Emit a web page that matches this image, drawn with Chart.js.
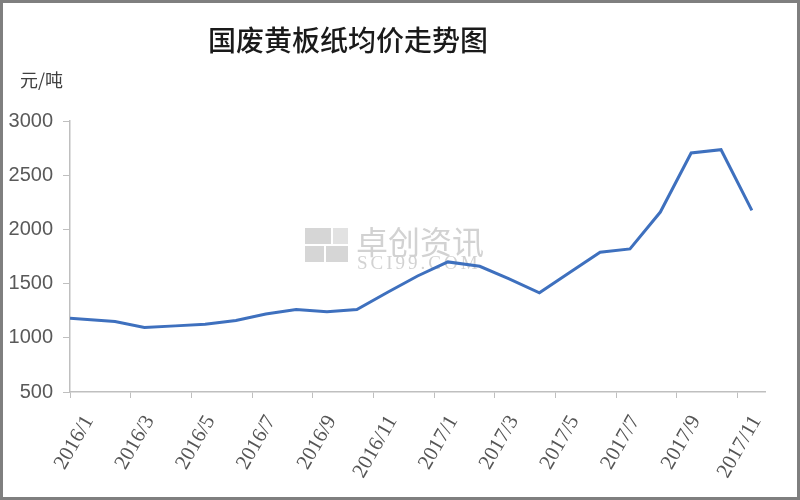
<!DOCTYPE html>
<html>
<head>
<meta charset="utf-8">
<script src="https://cdn.jsdelivr.net/npm/chart.js@4.4.1/dist/chart.umd.min.js"></script>
<style>
  body { margin: 0; background: #fff; }
</style>
</head>
<body>
<canvas id="myChart" width="800" height="500"></canvas>
<script>
// 国废黄板纸均价 (元/吨), sampled roughly mid-month
var dates = ['2016/1/1', '2016/2/15', '2016/3/15', '2016/4/15', '2016/5/15', '2016/6/15',
             '2016/7/15', '2016/8/15', '2016/9/15', '2016/10/15', '2016/11/15', '2016/12/15',
             '2017/1/15', '2017/2/15', '2017/3/15', '2017/4/15', '2017/5/15', '2017/6/15',
             '2017/7/15', '2017/8/15', '2017/9/15', '2017/10/15', '2017/11/15'];
var prices = [1180, 1150, 1095, 1110, 1125, 1160,
              1220, 1260, 1240, 1260, 1420, 1570,
              1700, 1660, 1545, 1415, 1600, 1790,
              1820, 2160, 2705, 2735, 2175];
var xTickLabels = ['2016/1', '2016/3', '2016/5', '2016/7', '2016/9', '2016/11',
                   '2017/1', '2017/3', '2017/5', '2017/7', '2017/9', '2017/11'];
var yTicks = [500, 1000, 1500, 2000, 2500, 3000];
var chartTitle = '国废黄板纸均价走势图';
var unitLabel = '元/吨';

// months since 2016/1/1
function toMonths(s) {
    var p = s.split('/').map(Number);
    var days = new Date(p[0], p[1], 0).getDate();
    return (p[0] - 2016) * 12 + (p[1] - 1) + (p[2] - 1) / days;
}

var points = dates.map(function (d, i) {
    return { x: toMonths(d), y: prices[i] };
});

var decor = {
    id: 'decor',
    beforeDraw: function (chart) {
        var c = chart.ctx;
        c.save();
        c.fillStyle = '#fff';
        c.fillRect(0, 0, chart.width, chart.height);
        c.restore();
    },
    beforeDatasetsDraw: function (chart) {
        // faint watermark in the middle
        var c = chart.ctx;
        c.save();
        c.fillStyle = '#d6d6d6';
        c.fillRect(305, 228, 26, 16);
        c.fillRect(305, 246, 19, 16);
        c.fillRect(326, 246, 22, 16);
        c.fillStyle = '#e2e2e2';
        c.fillRect(333, 228, 15, 16);
        c.fillStyle = '#d2d2d2';
        c.font = '32px "Noto Sans CJK SC"';
        c.textBaseline = 'middle';
        c.fillText('卓创资讯', 356, 242);
        c.font = '19px "Liberation Serif"';
        c.letterSpacing = '3px';
        c.fillText('SCI99.COM', 357, 264);
        c.restore();
    },
    afterDraw: function (chart) {
        var c = chart.ctx;
        c.save();
        c.fillStyle = '#1a1a1a';
        c.font = '500 28px "Noto Sans CJK SC"';
        c.textAlign = 'center';
        c.textBaseline = 'middle';
        c.fillText(chartTitle, 348, 40);
        c.fillStyle = '#404040';
        c.font = '18px "Noto Sans CJK SC"';
        c.textAlign = 'left';
        c.fillText(unitLabel, 20, 80);
        c.strokeStyle = '#7f7f7f';
        c.lineWidth = 3;
        c.strokeRect(1.5, 1.5, chart.width - 3, chart.height - 3);
        c.restore();
    }
};

var ctx = document.getElementById('myChart').getContext('2d');
var myChart = new Chart(ctx, {
    type: 'line',
    data: {
        datasets: [{
            label: '均价',
            data: points,
            borderColor: 'rgb(62,112,190)',
            borderWidth: 3,
            pointRadius: 0,
            tension: 0,
            fill: false
        }]
    },
    options: {
        responsive: false,
        animation: false,
        layout: { padding: { left: 0, right: 35, top: 121, bottom: 0 } },
        plugins: {
            legend: { display: false },
            tooltip: { enabled: false },
            title: { display: false }
        },
        scales: {
            x: {
                type: 'linear',
                min: 0,
                max: 22.9,
                afterFit: function (s) { s.height = 108; },
                afterBuildTicks: function (s) {
                    s.ticks = xTickLabels.map(function (t, i) { return { value: i * 2 }; });
                },
                grid: { drawOnChartArea: false, color: '#bfbfbf', tickLength: 6 },
                border: { color: '#bfbfbf', width: 1.5 },
                ticks: {
                    minRotation: 60,
                    maxRotation: 60,
                    padding: 13,
                    labelOffset: 19,
                    color: '#555',
                    font: { family: '"Liberation Serif"', size: 21 },
                    callback: function (v) { return xTickLabels[Math.round(v / 2)]; }
                }
            },
            y: {
                min: 500,
                max: 3000,
                afterFit: function (s) { s.width = 70; },
                afterBuildTicks: function (s) {
                    s.ticks = yTicks.map(function (v) { return { value: v }; });
                },
                grid: { drawOnChartArea: false, color: '#bfbfbf', tickLength: 7 },
                border: { color: '#bfbfbf', width: 1.5 },
                ticks: {
                    padding: 10,
                    color: '#595959',
                    font: { family: '"Liberation Sans"', size: 20 },
                    callback: function (v) { return String(v); }
                }
            }
        }
    },
    plugins: [decor]
});
</script>
</body>
</html>
